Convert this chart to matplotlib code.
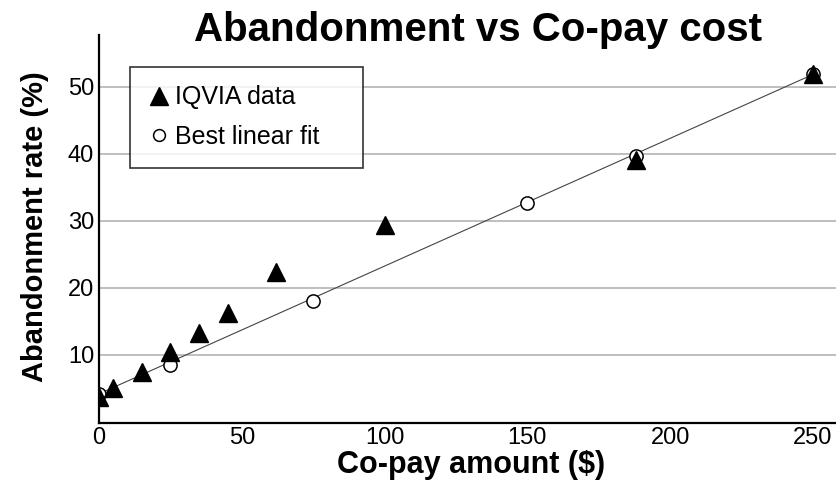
import matplotlib.pyplot as plt
from matplotlib.lines import Line2D

plt.rcParams['font.family'] = ['Liberation Sans', 'DejaVu Sans']

# IQVIA data points
copay = [0, 5, 15, 25, 35, 45, 62, 100, 188, 250]
abandon = [3.8, 5.0, 7.5, 10.5, 13.3, 16.3, 22.4, 29.4, 39.1, 51.8]

# best linear fit points
fit_x = [0, 25, 75, 150, 188, 250]
fit_y = [4.2, 8.5, 18.1, 32.7, 39.7, 51.8]

# fit line end points
line_x = [0, 250]
line_y = [4.2, 51.8]

xticks = [0, 50, 100, 150, 200, 250]
yticks = [10, 20, 30, 40, 50]

fig = plt.figure(figsize=(8.37, 4.84), dpi=100)
ax = fig.add_axes([0.1183, 0.126, 0.8817, 0.802])

ax.plot(line_x, line_y, color='#444444', lw=0.8, zorder=2)
ax.plot(fit_x, fit_y, 'o', ms=9.5, mfc='white', mec='black', mew=1.1, zorder=3)
ax.plot(copay, abandon, '^', ms=13.5, color='black', zorder=4)

ax.set_xlim(0, 258.4)
ax.set_ylim(-0.15, 57.7)
ax.set_xticks(xticks)
ax.set_yticks(yticks)
ax.tick_params(length=0, labelsize=17)
ax.tick_params(axis='y', pad=3.5)
ax.tick_params(axis='x', pad=3)
for lab in ax.get_xticklabels() + ax.get_yticklabels():
    lab.set_family(['Liberation Sans Narrow', 'Liberation Sans'])

ax.grid(axis='y', color='#b4b4b4', lw=1.2)
ax.set_axisbelow(True)
for s in ['top', 'right']:
    ax.spines[s].set_visible(False)
for s in ['left', 'bottom']:
    ax.spines[s].set_linewidth(1.6)

handles = [
    Line2D([], [], marker='^', ls='none', color='black', ms=13),
    Line2D([], [], marker='o', ls='none', mfc='white', mec='black', mew=1.1, ms=8.5),
]
leg = ax.legend(handles, ['IQVIA data', 'Best linear fit'], loc='upper left',
                bbox_to_anchor=(0.042, 0.918, 0.3157, 0), mode='expand',
                fontsize=18, frameon=True, fancybox=False, handlelength=0.8,
                handletextpad=0.25, labelspacing=0.63, borderpad=0.75,
                borderaxespad=0)
leg.get_frame().set_edgecolor('black')
leg.get_frame().set_linewidth(1.2)

fig.text(0.571, 1 - 41 / 484, 'Abandonment vs Co-pay cost', ha='center',
         va='baseline', fontsize=29, fontweight='bold')
fig.text(35 / 837, 1 - 227 / 484, 'Abandonment rate (%)', rotation=90,
         ha='center', va='center', fontsize=21, fontweight='bold')
fig.text(471 / 837, 1 - 465 / 484, 'Co-pay amount ($)', ha='center',
         va='center', fontsize=22, fontweight='bold')

fig.savefig('out.png', dpi=100)
